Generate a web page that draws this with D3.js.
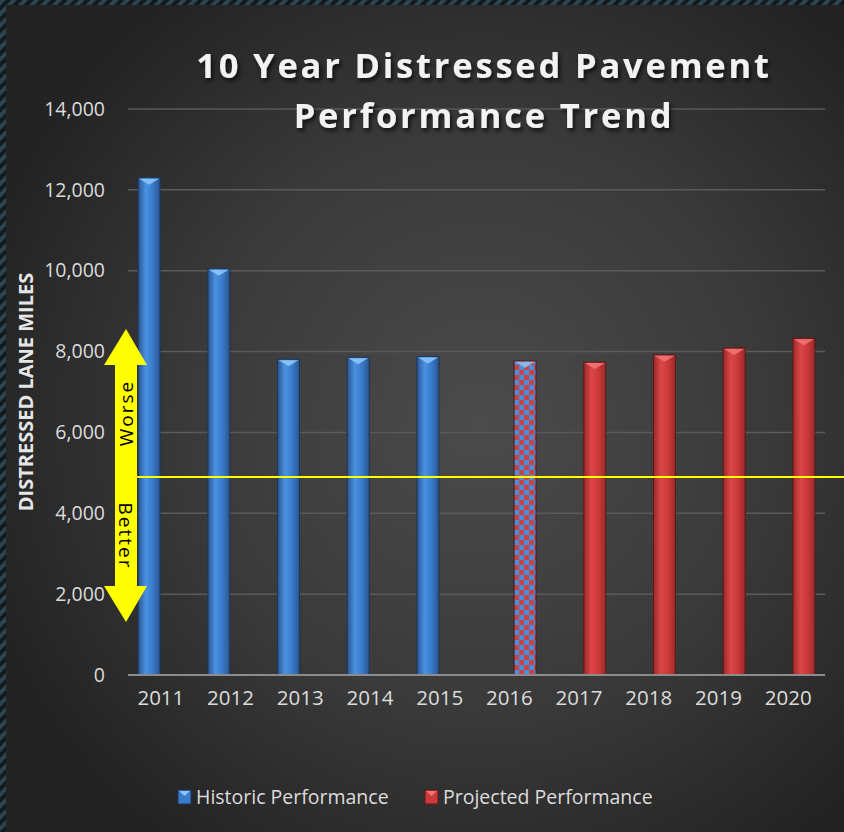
<!DOCTYPE html>
<html>
<head>
<meta charset="utf-8">
<script src="https://cdn.jsdelivr.net/npm/d3@7"></script>
<style>
  html, body { margin: 0; padding: 0; background: #121a1e; }
  svg { display: block; }
</style>
</head>
<body>
<svg id="chart"></svg>
<script>
// data
const years = ['2011','2012','2013','2014','2015','2016','2017','2018','2019','2020'];
const series = ['Historic Performance', 'Projected Performance'];
const historic = [12300, 10050, 7810, 7860, 7880, null, null, null, null, null];
const projected = [null, null, null, null, null, 7770, 7740, 7920, 8090, 8330];
const estimated = ['2016']; // checkered bar
const target = 4900;
const yTicks = [0, 2000, 4000, 6000, 8000, 10000, 12000, 14000];

const width = 844, height = 832;
const svg = d3.select('#chart').attr('width', width).attr('height', height);
const defs = svg.append('defs');

// striped border
const stripes = defs.append('pattern').attr('id', 'stripes')
    .attr('width', 8).attr('height', 8)
    .attr('patternUnits', 'userSpaceOnUse')
    .attr('patternTransform', 'rotate(45)');
stripes.append('rect').attr('width', 8).attr('height', 8).attr('fill', '#121a1e');
stripes.append('rect').attr('width', 4).attr('height', 8).attr('fill', '#2b4650');

// background glow
const bg = defs.append('radialGradient').attr('id', 'bg')
    .attr('gradientUnits', 'userSpaceOnUse')
    .attr('cx', 480).attr('cy', 420).attr('r', 520);
bg.append('stop').attr('offset', '0%').attr('stop-color', '#4b4b4b');
bg.append('stop').attr('offset', '55%').attr('stop-color', '#3a3a3a');
bg.append('stop').attr('offset', '100%').attr('stop-color', '#232323');

// cylinder shading for bars
function cyl(id, edge, mid, light) {
  const g = defs.append('linearGradient').attr('id', id)
      .attr('x1', '0%').attr('x2', '100%').attr('y1', '0%').attr('y2', '0%');
  g.append('stop').attr('offset', '0%').attr('stop-color', edge);
  g.append('stop').attr('offset', '35%').attr('stop-color', light);
  g.append('stop').attr('offset', '65%').attr('stop-color', mid);
  g.append('stop').attr('offset', '100%').attr('stop-color', edge);
}
cyl('blueBar', '#2a5590', '#3a7ccc', '#4a92e2');
cyl('redBar', '#9c2a2a', '#cc3a3a', '#dc4646');

const checker = defs.append('pattern').attr('id', 'checker')
    .attr('width', 10).attr('height', 10)
    .attr('patternUnits', 'userSpaceOnUse');
checker.append('rect').attr('width', 10).attr('height', 10).attr('fill', '#c84444');
checker.append('rect').attr('width', 5).attr('height', 5).attr('fill', '#4a8edc');
checker.append('rect').attr('x', 5).attr('y', 5).attr('width', 5).attr('height', 5).attr('fill', '#4a8edc');

const shadow = defs.append('filter').attr('id', 'shadow')
    .attr('x', '-10%').attr('y', '-20%').attr('width', '120%').attr('height', '150%');
shadow.append('feDropShadow').attr('dx', 2).attr('dy', 3).attr('stdDeviation', 2)
    .attr('flood-color', '#000').attr('flood-opacity', 0.7);

svg.append('rect').attr('width', width).attr('height', height).attr('fill', 'url(#stripes)');
svg.append('rect').attr('x', 6).attr('y', 5).attr('width', width - 6).attr('height', height - 5)
    .attr('fill', 'url(#bg)');

// scales
const x = d3.scaleBand().domain(years).range([128, 825]);
const xs = d3.scaleBand().domain(series).range([0, x.bandwidth()])
    .paddingInner(0.2).paddingOuter(0.37);
const y = d3.scaleLinear().domain([0, 14000]).range([675, 109]);

// grid
svg.append('g').selectAll('line').data(yTicks.filter(d => d > 0)).enter().append('line')
    .attr('x1', 128).attr('x2', 825)
    .attr('y1', d => y(d)).attr('y2', d => y(d))
    .attr('stroke', '#5a5a5a').attr('stroke-width', 1.5);

// y axis labels
const yAxis = svg.append('g').attr('transform', 'translate(105,0)')
    .call(d3.axisLeft(y).tickValues(yTicks).tickFormat(d3.format(',')).tickSize(0).tickPadding(0));
yAxis.select('.domain').remove();
yAxis.selectAll('text').attr('fill', '#dcdcdc').attr('font-size', 19.5)
    .attr('font-family', 'Open Sans, sans-serif');

// x axis labels
const xAxis = svg.append('g').attr('transform', 'translate(-2,690)')
    .call(d3.axisBottom(x).tickSize(0).tickPadding(0));
xAxis.select('.domain').remove();
xAxis.selectAll('text').attr('fill', '#dcdcdc').attr('font-size', 20.5)
    .attr('font-family', 'Open Sans, sans-serif');

// bars
const rows = [];
years.forEach((yr, i) => {
  if (historic[i] != null) rows.push({year: yr, s: series[0], v: historic[i]});
  if (projected[i] != null) rows.push({year: yr, s: series[1], v: projected[i]});
});

const bars = svg.append('g').selectAll('g').data(rows).enter().append('g')
    .attr('transform', d => `translate(${x(d.year) + xs(d.s)},0)`);
const bw = xs.bandwidth();
bars.append('rect')
    .attr('y', d => y(d.v)).attr('width', bw).attr('height', d => y(0) - y(d.v))
    .attr('fill', d => estimated.includes(d.year) ? 'url(#checker)' : (d.s === series[0] ? 'url(#blueBar)' : 'url(#redBar)'))
    .attr('stroke', d => d.s === series[0] ? '#1d3558' : '#5a1818')
    .attr('stroke-width', 1);
bars.append('path')
    .attr('d', d => `M1,${y(d.v) + 1}L${bw - 1},${y(d.v) + 1}L${bw / 2},${y(d.v) + 7}Z`)
    .attr('fill', d => estimated.includes(d.year) ? '#8cc0f0' : (d.s === series[0] ? '#8cc4f6' : '#f07474'))
    .attr('opacity', 0.9);

// baseline
svg.append('line').attr('x1', 128).attr('x2', 825).attr('y1', y(0)).attr('y2', y(0))
    .attr('stroke', '#8c8c8c').attr('stroke-width', 2);

// target line
svg.append('line').attr('x1', 137).attr('x2', width).attr('y1', y(target)).attr('y2', y(target))
    .attr('stroke', '#ffff00').attr('stroke-width', 2);

// worse / better arrow
const aTop = y(8560), aBot = y(1310), headH = 36;
const ax0 = 115, ax1 = 137, hx0 = 104, hx1 = 147, axc = (ax0 + ax1) / 2;
svg.append('path')
    .attr('d', `M${axc},${aTop}L${hx1},${aTop + headH}L${ax1},${aTop + headH}L${ax1},${aBot - headH}` +
               `L${hx1},${aBot - headH}L${axc},${aBot}L${hx0},${aBot - headH}L${ax0},${aBot - headH}` +
               `L${ax0},${aTop + headH}L${hx0},${aTop + headH}Z`)
    .attr('fill', '#ffff00');
svg.append('text').attr('transform', `translate(${axc + 7},${y(6480)}) rotate(-90)`)
    .attr('text-anchor', 'middle').attr('font-size', 19).attr('letter-spacing', 2)
    .attr('font-family', 'Open Sans, sans-serif').attr('fill', '#000').text('Worse');
svg.append('text').attr('transform', `translate(${axc - 7},${y(3440)}) rotate(90)`)
    .attr('text-anchor', 'middle').attr('font-size', 19).attr('letter-spacing', 2)
    .attr('font-family', 'Open Sans, sans-serif').attr('fill', '#000').text('Better');

// y title
svg.append('text').attr('transform', 'translate(33,392) rotate(-90)')
    .attr('text-anchor', 'middle').attr('font-size', 20).attr('font-weight', 'bold')
    .attr('font-family', 'Open Sans, sans-serif').attr('fill', '#e6e6e6')
    .text('DISTRESSED LANE MILES');

// title
const title = svg.append('text').attr('text-anchor', 'middle')
    .attr('font-size', 34.5).attr('font-weight', 'bold').attr('letter-spacing', 2.8)
    .attr('font-family', 'Open Sans, sans-serif').attr('fill', '#f2f2f2')
    .attr('filter', 'url(#shadow)');
title.append('tspan').attr('x', 484).attr('y', 78).text('10 Year Distressed Pavement');
title.append('tspan').attr('x', 484).attr('y', 128).text('Performance Trend');

// legend
const legend = svg.append('g').selectAll('g').data(series).enter().append('g')
    .attr('transform', (d, i) => `translate(${i === 0 ? 178 : 425},790)`);
legend.append('rect').attr('width', 13).attr('height', 14)
    .attr('fill', (d, i) => i === 0 ? '#3a7ccc' : '#cc3a3a')
    .attr('stroke', (d, i) => i === 0 ? '#1d3558' : '#5a1818');
legend.append('path').attr('d', 'M1,1L12,1L6.5,6Z')
    .attr('fill', (d, i) => i === 0 ? '#8cc4f6' : '#f07474');
legend.append('text').attr('x', 18).attr('y', 13.5)
    .attr('font-size', 19.5).attr('font-family', 'Open Sans, sans-serif').attr('fill', '#dcdcdc')
    .text(d => d);
</script>
</body>
</html>
